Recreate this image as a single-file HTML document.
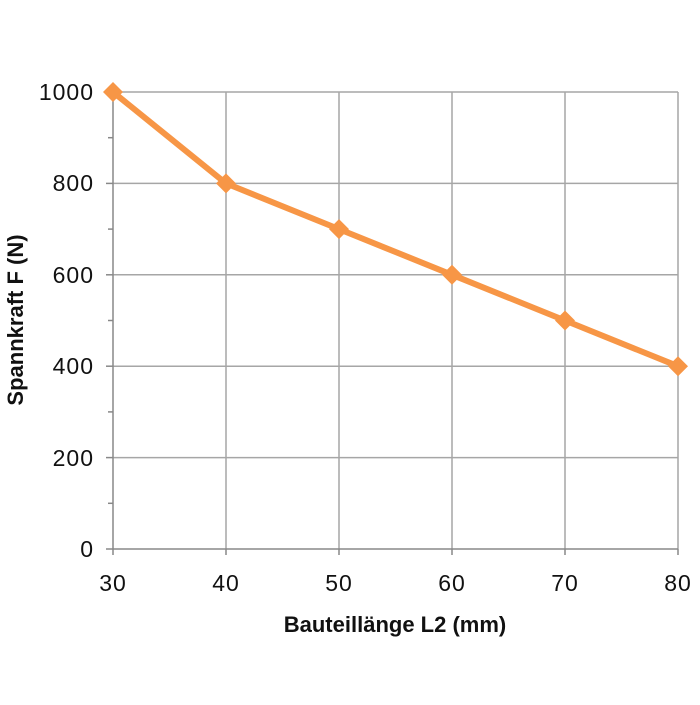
<!DOCTYPE html><html><head><style>body{margin:0;background:#fff}</style></head><body>
<svg width="700" height="700" xmlns="http://www.w3.org/2000/svg" font-family="Liberation Sans, sans-serif">
<rect width="700" height="700" fill="#fff"/>
<g stroke="#a6a6a6" stroke-width="1.5">
<line x1="113" y1="92" x2="678" y2="92"/><line x1="113" y1="183.4" x2="678" y2="183.4"/>
<line x1="113" y1="274.8" x2="678" y2="274.8"/><line x1="113" y1="366.2" x2="678" y2="366.2"/>
<line x1="113" y1="457.6" x2="678" y2="457.6"/>
<line x1="226" y1="92" x2="226" y2="549"/><line x1="339" y1="92" x2="339" y2="549"/>
<line x1="452" y1="92" x2="452" y2="549"/><line x1="565" y1="92" x2="565" y2="549"/>
<line x1="678" y1="92" x2="678" y2="549"/>
</g>
<g stroke="#888" stroke-width="1.5">
<line x1="113" y1="92" x2="113" y2="555"/><line x1="106" y1="549" x2="678" y2="549"/>
<line x1="106" y1="92" x2="113" y2="92"/><line x1="106" y1="183.4" x2="113" y2="183.4"/><line x1="106" y1="274.8" x2="113" y2="274.8"/><line x1="106" y1="366.2" x2="113" y2="366.2"/><line x1="106" y1="457.6" x2="113" y2="457.6"/>
<line x1="108" y1="137.7" x2="113" y2="137.7"/><line x1="108" y1="229.1" x2="113" y2="229.1"/><line x1="108" y1="320.5" x2="113" y2="320.5"/><line x1="108" y1="411.9" x2="113" y2="411.9"/><line x1="108" y1="503.3" x2="113" y2="503.3"/>
<line x1="226" y1="549" x2="226" y2="555"/><line x1="339" y1="549" x2="339" y2="555"/><line x1="452" y1="549" x2="452" y2="555"/><line x1="565" y1="549" x2="565" y2="555"/><line x1="678" y1="549" x2="678" y2="555"/>
</g>
<polyline points="113,92 226,183.4 339,229.1 452,274.8 565,320.5 678,366.2" fill="none" stroke="#f79646" stroke-width="6" stroke-linejoin="round"/>
<g fill="#f79646">
<path d="M113,82 l10,10 -10,10 -10,-10z"/><path d="M226,173.4 l10,10 -10,10 -10,-10z"/><path d="M339,219.1 l10,10 -10,10 -10,-10z"/><path d="M452,264.8 l10,10 -10,10 -10,-10z"/><path d="M565,310.5 l10,10 -10,10 -10,-10z"/><path d="M678,356.2 l10,10 -10,10 -10,-10z"/>
</g>
<g font-size="23" fill="#111" text-anchor="end" letter-spacing="1">
<text x="94" y="100">1000</text><text x="94" y="191">800</text><text x="94" y="283">600</text><text x="94" y="374">400</text><text x="94" y="466">200</text><text x="94" y="557">0</text>
</g>
<g font-size="23" fill="#111" text-anchor="middle" letter-spacing="1">
<text x="113" y="591">30</text><text x="226" y="591">40</text><text x="339" y="591">50</text><text x="452" y="591">60</text><text x="565" y="591">70</text><text x="678" y="591">80</text>
</g>
<g fill="#111" text-anchor="middle" font-weight="bold" font-size="22">
<text x="395" y="632">Bauteillänge L2 (mm)</text>
<text transform="translate(23,320) rotate(-90)">Spannkraft F (N)</text>
</g>
</svg></body></html>
